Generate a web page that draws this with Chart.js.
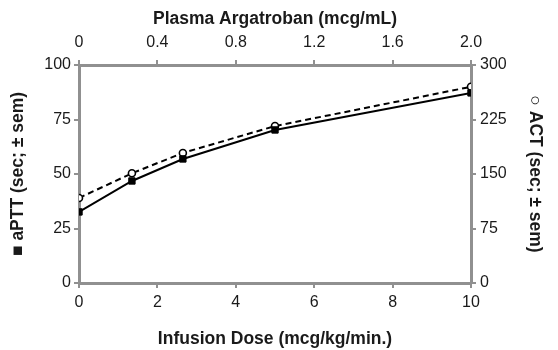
<!DOCTYPE html>
<html>
<head>
<meta charset="utf-8">
<script src="https://cdn.jsdelivr.net/npm/chart.js@4.4.1/dist/chart.umd.min.js"></script>
<style>
  html, body { margin: 0; padding: 0; background: #fff; }
  #wrap { width: 558px; height: 350px; }
</style>
</head>
<body>
<div id="wrap"><canvas id="argChart"></canvas></div>
<script>
// values
const infusionDose = [0, 1.35, 2.65, 5, 10];
const apttValues = [32.6, 46.8, 56.9, 70.2, 87.2];
const actValues = [117, 151, 179, 216, 270];

// tick labels
const doseTicks = [0, 2, 4, 6, 8, 10];
const plasmaTicks = [0, 0.4, 0.8, 1.2, 1.6, 2.0];
const apttTicks = [0, 25, 50, 75, 100];
const actTicks = [0, 75, 150, 225, 300];

const axisGray = '#909090';
const textColor = '#1a1a1a';
const fontFamily = '"Liberation Sans", Arial, Helvetica, sans-serif';

function setTicks(list) {
    return function(scale) {
        scale.ticks = list.map(v => ({ value: v }));
    };
}

// common look of every axis
function axis(extra) {
    const base = {
        border: { display: true, color: axisGray, width: 3 },
        grid: {
            drawOnChartArea: false,
            color: axisGray,
            lineWidth: 2,
            tickLength: 5
        },
        ticks: {
            color: textColor,
            font: { family: fontFamily, size: 16 },
            maxRotation: 0,
            autoSkip: false
        },
        title: {
            display: true,
            color: textColor,
            font: { family: fontFamily, size: 17.5, weight: 'bold' }
        }
    };
    return Object.assign(base, extra, {
        ticks: Object.assign(base.ticks, extra.ticks || {}),
        title: Object.assign(base.title, extra.title || {})
    });
}

const ctx = document.getElementById('argChart').getContext('2d');

new Chart(ctx, {
    type: 'line',
    data: {
        datasets: [
            {
                label: 'aPTT',
                data: infusionDose.map((d, i) => ({ x: d, y: apttValues[i] })),
                xAxisID: 'x',
                yAxisID: 'y',
                borderColor: '#000',
                borderWidth: 2,
                pointStyle: 'rect',
                pointRadius: 4.5,
                pointBackgroundColor: '#000',
                pointBorderColor: '#000',
                pointBorderWidth: 1,
                tension: 0
            },
            {
                label: 'ACT',
                data: infusionDose.map((d, i) => ({ x: d, y: actValues[i] })),
                xAxisID: 'x',
                yAxisID: 'y2',
                borderColor: '#000',
                borderWidth: 2,
                borderDash: [6, 4],
                pointStyle: 'circle',
                pointRadius: 3.5,
                pointBackgroundColor: '#fff',
                pointBorderColor: '#000',
                pointBorderWidth: 1.6,
                tension: 0
            }
        ]
    },
    options: {
        responsive: true,
        maintainAspectRatio: false,
        animation: false,
        layout: { padding: 0 },
        plugins: {
            legend: { display: false },
            tooltip: { enabled: false }
        },
        scales: {
            x: axis({
                type: 'linear',
                position: 'bottom',
                min: 0,
                max: 10,
                afterBuildTicks: setTicks(doseTicks),
                afterFit: s => { s.height = 67; },
                ticks: { padding: 5 },
                title: { text: 'Infusion Dose (mcg/kg/min.)', padding: { top: 4, bottom: 0 } }
            }),
            x2: axis({
                type: 'linear',
                position: 'top',
                display: true,
                min: 0,
                max: 2,
                afterBuildTicks: setTicks(plasmaTicks),
                afterFit: s => { s.height = 65; },
                ticks: {
                    padding: 8,
                    callback: v => (v === 0 ? '0' : v.toFixed(1))
                },
                title: { text: 'Plasma Argatroban (mcg/mL)', padding: { top: 9, bottom: 0 } }
            }),
            y: axis({
                type: 'linear',
                position: 'left',
                min: 0,
                max: 100,
                afterBuildTicks: setTicks(apttTicks),
                afterFit: s => { s.width = 79; },
                ticks: { padding: 3 },
                title: { text: '\u25A0 aPTT (sec; \u00B1 sem)', padding: { top: 8, bottom: 0 } }
            }),
            y2: axis({
                type: 'linear',
                position: 'right',
                min: 0,
                max: 300,
                afterBuildTicks: setTicks(actTicks),
                afterFit: s => { s.width = 87; },
                ticks: { padding: 4 },
                title: { text: '\u25CB ACT (sec; \u00B1 sem)', padding: { top: 13, bottom: 0 } }
            })
        }
    }
});
</script>
</body>
</html>
